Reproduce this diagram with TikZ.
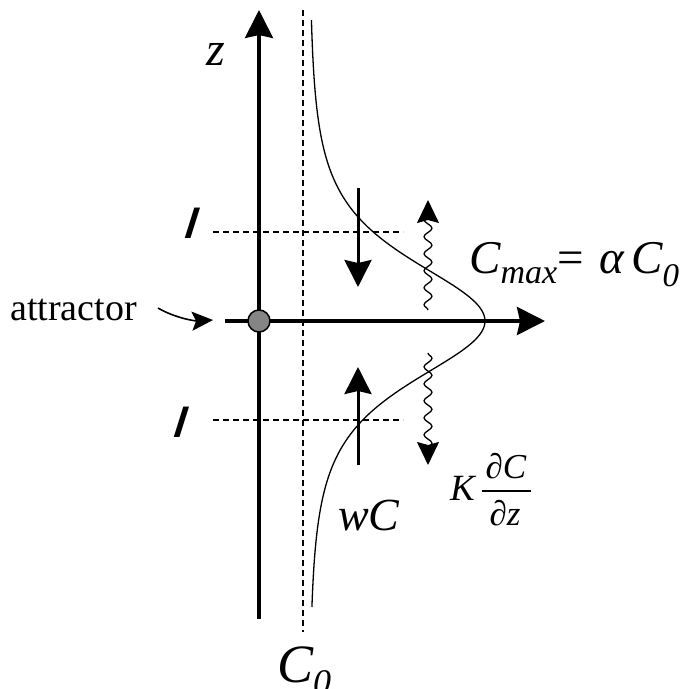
\documentclass[tikz,border=0pt]{standalone}
\usepackage{fontspec}
\setmainfont{Liberation Serif}
\setsansfont{Liberation Sans}
\usetikzlibrary{arrows.meta,decorations.pathmorphing}
\tikzset{
  axis/.style={line width=3.4pt,-{Stealth[length=28pt,width=28pt,inset=3pt]}},
  flux/.style={line width=3pt,-{Stealth[length=27pt,width=27pt,inset=3pt]}},
  wavy/.style={line width=1.3pt,decorate,decoration={snake,amplitude=4pt,segment length=17pt,post length=14pt},-{Stealth[length=23pt,width=22pt,inset=3pt]}},
  guide/.style={line width=1.3pt,dash pattern=on 6pt off 4pt},
  lbl/.style={inner sep=0pt},
  lenlbl/.style={inner sep=0pt,xslant=0.12,font=\fontsize{42pt}{42pt}\selectfont\sffamily\bfseries\itshape},
}
\begin{document}
\begin{tikzpicture}[x=1pt,y=-1pt]
\useasboundingbox (0,0) rectangle (685,689);
% coordinates
\coordinate (zbot) at (259,619);
\coordinate (ztop) at (259,10);
\coordinate (xl) at (225,321);
\coordinate (xr) at (545,321);
\coordinate (dt) at (303,10);
\coordinate (db) at (303,632);
\coordinate (h1l) at (213,232);
\coordinate (h1r) at (403,232);
\coordinate (h2l) at (213,420);
\coordinate (h2r) at (403,420);
\coordinate (da) at (358,188);
\coordinate (db2) at (358,287);
\coordinate (ua) at (358,465);
\coordinate (ub) at (358,367);
\coordinate (w1a) at (428,310);
\coordinate (w1b) at (428,200);
\coordinate (w2a) at (428,353);
\coordinate (w2b) at (428,465);
\coordinate (at1) at (158,308);
\coordinate (at2) at (213,320);
% dashed guides
\draw[guide] (dt) -- (db);
\draw[guide] (h1l) -- (h1r);
\draw[guide] (h2l) -- (h2r);
% profile curve
\draw[line width=1.3pt] plot[domain=20:607,samples=240,smooth] ({309+176/(1+((\x-321)/110)^2)^2},\x);
% axes
\draw[axis] (zbot) -- (ztop);
\draw[axis] (xl) -- (xr);
\node[circle,draw,line width=1.5pt,fill=black!48,minimum size=22pt,inner sep=0pt] (att) at (259,321) {};
% fluxes
\draw[flux] (da) -- (db2);
\draw[flux] (ua) -- (ub);
\draw[wavy] (w1a) -- (w1b);
\draw[wavy] (w2a) -- (w2b);
% attractor arrow
\draw[line width=1.6pt,-{Stealth[length=21pt,width=19pt,inset=4pt]}] (at1) .. controls (175,318) and (195,321) .. (at2);
% labels
\node[lbl,anchor=base,font=\fontsize{48pt}{48pt}\selectfont\itshape] (zl) at (216,65) {z};
\node[lbl,anchor=base west,font=\fontsize{38pt}{38pt}\selectfont] (attl) at (10,320) {attractor};
\node[lenlbl] (l1) at (192,223) {l};
\node[lenlbl] (l2) at (181,422) {l};
\node[lbl,anchor=base west,font=\fontsize{47pt}{47pt}\selectfont\itshape] (cmax) at (469,273)
  {C\raisebox{-10pt}{\fontsize{34pt}{34pt}\selectfont max}\kern0pt\upshape=\kern16pt\itshape α\kern7pt C\raisebox{-13pt}{\fontsize{33pt}{33pt}\selectfont 0}};
\node[lbl,anchor=base west,font=\fontsize{46pt}{46pt}\selectfont\itshape] (wc) at (338,530) {wC};
\node[lbl,anchor=base west,font=\fontsize{37pt}{37pt}\selectfont\itshape] (kl) at (450,500) {K};
\node[lbl,anchor=base,font=\fontsize{35pt}{35pt}\selectfont] (num) at (506,478) {∂\textit{C}};
\node[lbl,anchor=base,font=\fontsize{35pt}{35pt}\selectfont] (den) at (505,525) {∂\textit{z}};
\coordinate (fb1) at (482,491);
\coordinate (fb2) at (531,491);
\draw[line width=1.4pt] (fb1) -- (fb2);
\node[lbl,anchor=base west,font=\fontsize{54pt}{54pt}\selectfont\itshape] (c0) at (277,682)
  {C\raisebox{-12pt}{\fontsize{36pt}{36pt}\selectfont 0}};
\end{tikzpicture}
\end{document}
